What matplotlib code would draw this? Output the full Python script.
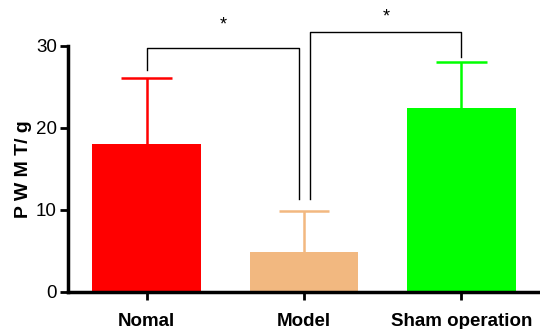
import numpy as np
import matplotlib
matplotlib.use("Agg")
import matplotlib.pyplot as plt

plt.rcParams['font.family'] = ['Liberation Sans', 'DejaVu Sans']

groups = ['Nomal', 'Model', 'Sham operation']
means = [18.0, 4.9, 22.5]
errs = [8.1, 5.0, 5.5]
colors = ['#ff0000', '#f2b880', '#00ff00']

fig = plt.figure(figsize=(5.4, 3.29), dpi=100)
ax = fig.add_axes([68/540, 37/329, 472/540, 246/329])

x = np.arange(len(groups))
ax.bar(x, means, width=0.69, color=colors, zorder=2)
# upper error bars only
tops = np.array(means) + np.array(errs)
ax.vlines(x, means, tops, colors=colors, lw=1.8, zorder=1)
ax.hlines(tops, x - 0.16, x + 0.16, colors=colors, lw=1.8, zorder=1)

ax.set_xlim(-0.5, 2.5)
ax.set_ylim(0, 30)
ax.set_yticks([0, 10, 20, 30])
ax.set_xticks(x)
ax.set_xticklabels(groups, fontsize=13.5, fontweight='bold')
ax.tick_params(axis='y', labelsize=13.5, width=2, length=6, pad=2)
ax.tick_params(axis='x', width=2, length=6, pad=9)
for s in ['top', 'right']:
    ax.spines[s].set_visible(False)
for s in ['left', 'bottom']:
    ax.spines[s].set_linewidth(2.5)
ax.set_ylabel('P W M T/ g', fontsize=14, fontweight='bold', labelpad=3)

# significance brackets
def bracket(x1, x2, y1, y2, top):
    ax.plot([x1, x1, x2, x2], [y1, top, top, y2], color='black', lw=1,
            clip_on=False)

bracket(0, 0.97, 27.1, 11.3, 29.8)
ax.text((0 + 0.97) / 2, 32.6, '*', ha='center', va='center', fontsize=13,
        clip_on=False)
bracket(1.04, 2, 11.3, 28.7, 31.7)
ax.text((1.04 + 2) / 2, 33.5, '*', ha='center', va='center', fontsize=13,
        clip_on=False)

fig.savefig('out.png', dpi=100)
